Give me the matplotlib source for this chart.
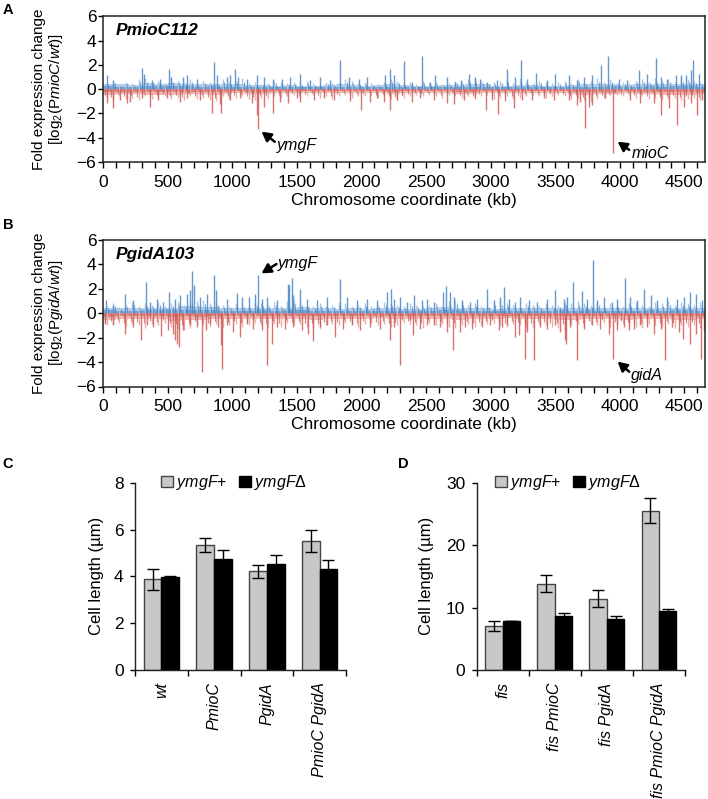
import numpy as np
import matplotlib
matplotlib.use('Agg')
import matplotlib.pyplot as plt
from matplotlib.ticker import MultipleLocator

plt.rcParams['font.family'] = ['Liberation Sans', 'DejaVu Sans']
plt.rcParams['mathtext.fontset'] = 'custom'
plt.rcParams['mathtext.it'] = 'Liberation Sans:italic'
plt.rcParams['mathtext.rm'] = 'Liberation Sans'
plt.rcParams['mathtext.bf'] = 'Liberation Sans:bold'

# ---------------- data: panel A (PmioC112) ----------------
A_up_kb = [31, 78, 302, 318, 375, 440, 509, 525, 615, 646, 724, 861, 879, 956, 982, 1021, 1042, 1111, 1189, 1241,
           1318, 1383, 1447, 1525, 1602, 1680, 1757, 1835, 1900, 1977, 2042, 2184, 2222, 2248, 2331, 2390, 2468, 2532,
           2571, 2662, 2726, 2773, 2835, 2881, 2920, 2972, 3049, 3127, 3191, 3235, 3282, 3354, 3437, 3502, 3605, 3670,
           3721, 3786, 3858, 3907, 3992, 4057, 4152, 4212, 4277, 4316, 4367, 4432, 4471, 4510, 4549, 4568, 4613]
A_up_val = [1.15, 0.74, 1.78, 1.28, 0.74, 0.87, 1.64, 1.01, 1.01, 1.15, 0.87, 2.24, 1.15, 1.01, 1.15, 1.69, 1.01, 0.87,
            1.20, 1.01, 0.87, 0.87, 1.01, 1.28, 0.74, 1.01, 0.74, 2.38, 1.01, 0.87, 1.01, 1.15, 1.69, 1.15, 2.30, 0.60,
            2.70, 0.60, 1.15, 1.01, 0.60, 0.74, 1.28, 1.01, 0.87, 0.60, 0.74, 1.64, 1.01, 2.38, 0.87, 1.37, 0.74, 1.28,
            1.20, 0.74, 1.01, 1.15, 1.97, 2.70, 0.87, 0.74, 1.56, 1.28, 2.57, 1.01, 0.87, 1.15, 1.15, 1.15, 1.56, 2.38,
            1.28]
A_dn_kb = [25, 78, 129, 181, 207, 297, 362, 427, 491, 595, 646, 750, 843, 904, 912, 982, 1060, 1150, 1189, 1197, 1241,
           1318, 1370, 1434, 1499, 1525, 1628, 1706, 1783, 1912, 1995, 2067, 2119, 2171, 2222, 2274, 2313, 2390, 2455,
           2558, 2662, 2713, 2791, 2881, 2966, 3010, 3057, 3114, 3178, 3243, 3321, 3411, 3489, 3605, 3670, 3695, 3734,
           3760, 3786, 3889, 3949, 4083, 4160, 4264, 4316, 4380, 4440, 4497, 4549, 4600, 4639]
A_dn_val = [-1.17, -1.58, -0.90, -1.17, -1.04, -0.77, -1.45, -0.90, -0.77, -1.04, -0.77, -0.90, -1.99, -1.26, -1.99,
            -0.90, -0.77, -1.17, -2.13, -3.28, -1.45, -1.99, -1.04, -1.17, -0.77, -1.04, -0.90, -0.77, -0.90, -0.98,
            -1.72, -1.04, -0.77, -1.04, -1.72, -0.90, -0.49, -1.09, -0.77, -0.90, -1.17, -1.26, -0.90, -0.77, -1.72,
            -0.90, -2.02, -0.98, -1.58, -0.90, -0.90, -0.77, -0.90, -0.90, -1.31, -1.04, -3.17, -1.45, -1.31, -0.77,
            -5.27, -0.90, -1.17, -1.17, -2.13, -1.58, -2.95, -1.45, -1.17, -2.13, -0.90]
# dense near-zero background, 100-kb bins (magnitudes)
A_up_fringe = [0.45, 0.40, 0.35, 0.50, 0.45, 0.50, 0.45, 0.40, 0.45, 0.40, 0.40, 0.35, 0.35, 0.30, 0.35, 0.30, 0.30,
               0.35, 0.40, 0.35, 0.30, 0.35, 0.40, 0.35, 0.30, 0.30, 0.35, 0.35, 0.40, 0.40, 0.30, 0.30, 0.35, 0.35,
               0.30, 0.30, 0.35, 0.40, 0.40, 0.45, 0.35, 0.40, 0.45, 0.40, 0.45, 0.45, 0.40]
A_dn_fringe = [0.45, 0.40, 0.40, 0.45, 0.50, 0.45, 0.40, 0.40, 0.45, 0.40, 0.35, 0.40, 0.40, 0.35, 0.35, 0.30, 0.30,
               0.35, 0.35, 0.35, 0.30, 0.35, 0.40, 0.30, 0.30, 0.30, 0.35, 0.40, 0.40, 0.35, 0.30, 0.30, 0.30, 0.35,
               0.30, 0.30, 0.40, 0.45, 0.40, 0.40, 0.35, 0.40, 0.40, 0.45, 0.45, 0.50, 0.40]
# typical largest small change per 50-kb bin (bin centres 25, 75, ... kb)
A_up_50 = [0.5, 0.7, 0.4, 0.6, 0.5, 0.8, 0.9, 0.6, 0.7, 0.5,
           0.9, 0.7, 0.6, 0.8, 0.5, 0.7, 0.6, 0.5, 0.8, 0.6,
           0.7, 0.9, 0.5, 0.6, 0.4, 0.5, 0.7, 0.6, 0.5, 0.6,
           0.5, 0.7, 0.5, 0.4, 0.6, 0.5, 0.6, 0.8, 0.7, 0.5,
           0.6, 0.5, 0.4, 0.6, 0.8, 0.7, 0.5, 0.6, 0.4, 0.7,
           0.5, 0.6, 0.4, 0.5, 0.7, 0.6, 0.8, 0.9, 0.7, 0.5,
           0.6, 0.7, 0.8, 0.5, 0.9, 0.6, 0.5, 0.7, 0.6, 0.5,
           0.6, 0.7, 0.5, 0.8, 0.6, 0.7, 0.9, 0.6, 0.8, 0.5,
           0.6, 0.5, 0.7, 0.8, 0.6, 0.9, 0.7, 0.8, 0.6, 0.9,
           0.8, 0.7, 0.6]
A_dn_50 = [-0.7, -0.9, -0.6, -0.8, -0.7, -0.9, -0.6, -0.8, -0.7, -0.6,
           -0.8, -0.7, -0.9, -0.6, -0.8, -0.7, -0.9, -1.0, -0.6, -0.8,
           -0.7, -0.6, -0.8, -0.9, -0.7, -0.8, -0.6, -0.7, -0.6, -0.5,
           -0.7, -0.6, -0.5, -0.7, -0.6, -0.8, -0.6, -0.5, -0.7, -0.6,
           -0.6, -0.5, -0.7, -0.6, -0.8, -0.9, -0.7, -0.6, -0.5, -0.6,
           -0.5, -0.6, -0.7, -0.5, -0.6, -0.7, -0.6, -0.8, -0.6, -0.5,
           -0.8, -0.7, -0.6, -0.8, -0.7, -0.6, -0.5, -0.6, -0.7, -0.6,
           -0.5, -0.6, -0.8, -0.7, -0.9, -1.0, -0.8, -0.7, -0.6, -0.5,
           -0.6, -0.5, -0.7, -0.6, -0.8, -0.7, -0.9, -0.8, -0.7, -0.9,
           -0.8, -0.7, -0.9]

# ---------------- data: panel B (PgidA103) ----------------
B_up_kb = [21, 78, 168, 233, 331, 362, 419, 465, 509, 556, 595, 651, 672, 690, 703, 750, 801, 858, 874, 956, 1034,
           1073, 1130, 1176, 1197, 1228, 1267, 1344, 1429, 1442, 1460, 1473, 1520, 1576, 1654, 1731, 1835, 1886, 1964,
           2042, 2119, 2197, 2231, 2248, 2300, 2352, 2409, 2468, 2507, 2558, 2628, 2657, 2682, 2713, 2778, 2843, 2894,
           2972, 3023, 3075, 3101, 3140, 3191, 3230, 3295, 3359, 3437, 3502, 3566, 3592, 3636, 3708, 3747, 3789, 3824,
           3876, 3941, 3980, 4039, 4083, 4134, 4186, 4238, 4290, 4367, 4445, 4497, 4541, 4587, 4639]
B_up_val = [1.09, 0.63, 1.58, 1.04, 2.53, 0.90, 1.17, 0.90, 1.72, 1.17, 1.44, 1.58, 1.85, 3.41, 2.26, 1.31, 1.58, 3.08,
            1.85, 1.17, 1.63, 1.31, 1.31, 1.58, 3.13, 1.17, 1.31, 1.04, 2.40, 2.26, 2.89, 1.44, 1.99, 1.17, 1.04, 1.31,
            2.81, 1.31, 1.04, 1.17, 1.04, 1.72, 1.99, 1.17, 1.31, 0.90, 1.44, 1.04, 1.17, 0.90, 1.72, 2.18, 1.72, 1.31,
            1.04, 0.90, 1.17, 1.99, 1.04, 1.31, 2.13, 1.17, 0.90, 1.31, 1.04, 0.90, 1.17, 1.85, 1.17, 1.31, 2.53, 1.80,
            1.17, 4.36, 1.04, 1.31, 0.90, 1.17, 2.86, 1.31, 1.04, 1.99, 1.44, 1.04, 1.31, 1.17, 1.31, 1.72, 1.58, 1.04]
B_dn_kb = [13, 78, 168, 233, 292, 336, 388, 444, 504, 543, 556, 574, 590, 620, 672, 724, 768, 796, 827, 892, 910, 918,
           956, 1008, 1060, 1111, 1163, 1228, 1267, 1305, 1344, 1408, 1473, 1537, 1589, 1623, 1680, 1731, 1796, 1860,
           1925, 1990, 2067, 2145, 2222, 2248, 2295, 2378, 2396, 2455, 2507, 2558, 2605, 2662, 2709, 2765, 2804, 2856,
           2933, 2998, 3062, 3088, 3127, 3186, 3217, 3264, 3282, 3334, 3385, 3437, 3502, 3540, 3579, 3587, 3618, 3670,
           3721, 3786, 3850, 3915, 3949, 3980, 4031, 4070, 4109, 4160, 4212, 4264, 4316, 4354, 4406, 4458, 4492, 4544,
           4587, 4626, 4652]
B_dn_val = [-0.87, -1.01, -1.74, -1.14, -2.18, -1.01, -1.14, -1.91, -1.42, -1.69, -2.23, -2.56, -2.78, -1.42, -1.01,
            -1.14, -4.82, -1.42, -0.87, -1.14, -2.64, -4.55, -1.01, -1.55, -1.96, -0.87, -1.28, -1.42, -4.28, -2.51,
            -1.14, -1.28, -1.14, -1.42, -1.69, -2.29, -1.14, -1.01, -1.96, -1.28, -1.01, -1.42, -1.14, -1.28, -2.23,
            -1.14, -4.28, -0.60, -1.83, -1.28, -1.01, -1.01, -1.14, -1.55, -3.05, -1.55, -1.14, -1.28, -1.14, -1.01,
            -1.42, -1.14, -1.01, -1.96, -1.83, -3.73, -1.55, -3.87, -1.14, -1.28, -1.01, -1.55, -2.23, -2.56, -1.14,
            -3.87, -1.28, -1.01, -1.28, -1.69, -3.73, -1.42, -1.14, -1.42, -1.28, -1.01, -1.14, -1.69, -1.28, -3.81,
            -1.14, -1.55, -2.10, -2.51, -1.69, -3.73, -1.42]
B_up_fringe = [0.45, 0.40, 0.40, 0.45, 0.45, 0.45, 0.55, 0.50, 0.50, 0.40, 0.40, 0.40, 0.45, 0.40, 0.45, 0.50, 0.40,
               0.40, 0.35, 0.40, 0.35, 0.40, 0.40, 0.35, 0.35, 0.40, 0.50, 0.45, 0.40, 0.40, 0.35, 0.40, 0.40, 0.40,
               0.40, 0.45, 0.40, 0.45, 0.40, 0.40, 0.40, 0.40, 0.45, 0.40, 0.45, 0.45, 0.40]
B_dn_fringe = [0.60, 0.45, 0.50, 0.50, 0.50, 0.65, 0.55, 0.60, 0.50, 0.50, 0.45, 0.50, 0.50, 0.45, 0.50, 0.50, 0.55,
               0.50, 0.45, 0.45, 0.45, 0.40, 0.45, 0.45, 0.45, 0.50, 0.50, 0.55, 0.50, 0.45, 0.45, 0.40, 0.45, 0.45,
               0.45, 0.55, 0.55, 0.50, 0.45, 0.50, 0.55, 0.45, 0.50, 0.50, 0.55, 0.55, 0.50]
B_up_50 = [0.6, 0.8, 0.5, 0.7, 0.9, 0.6, 0.8, 0.7, 0.9, 0.6,
           0.8, 0.9, 0.7, 0.9, 1.0, 1.1, 0.8, 0.9, 0.7, 0.6,
           0.8, 0.7, 0.6, 0.9, 0.8, 0.7, 0.9, 0.6, 1.0, 1.1,
           0.9, 0.7, 0.6, 0.8, 0.6, 0.7, 0.9, 0.8, 0.6, 0.7,
           0.8, 0.6, 0.7, 0.9, 0.8, 0.7, 0.6, 0.8, 0.7, 0.6,
           0.7, 0.8, 0.6, 1.0, 1.1, 0.9, 0.7, 0.8, 0.6, 0.7,
           0.9, 1.0, 0.8, 0.7, 0.6, 0.8, 0.7, 0.6, 0.8, 0.7,
           0.7, 0.9, 0.8, 1.0, 0.8, 0.7, 0.9, 0.6, 0.8, 0.7,
           0.6, 0.8, 0.9, 0.7, 0.6, 0.9, 0.8, 1.0, 0.7, 0.9,
           0.8, 0.7, 0.9]
B_dn_50 = [-1.0, -0.9, -0.8, -1.1, -0.9, -1.0, -1.2, -0.9, -1.0, -0.8,
           -1.1, -1.3, -1.4, -1.2, -0.9, -1.0, -1.1, -0.9, -1.2, -1.0,
           -0.9, -1.1, -1.0, -0.8, -1.0, -1.2, -0.9, -1.1, -0.8, -1.0,
           -0.9, -1.1, -1.2, -1.3, -1.0, -0.9, -1.0, -0.8, -0.9, -1.1,
           -0.9, -0.8, -1.0, -0.9, -1.1, -1.0, -0.8, -0.9, -1.0, -1.2,
           -0.8, -1.0, -0.9, -1.1, -1.2, -1.0, -0.9, -1.1, -1.0, -0.9,
           -0.8, -1.0, -1.1, -0.9, -1.0, -1.2, -1.1, -0.9, -1.0, -1.1,
           -1.2, -1.3, -1.0, -0.9, -1.1, -0.9, -1.0, -0.8, -1.1, -1.0,
           -0.9, -1.0, -1.1, -1.2, -0.9, -1.0, -1.1, -0.9, -1.2, -1.0,
           -1.1, -1.0, -1.2]

# ---------------- data: panels C and D ----------------
C_groups = ['wt', 'PmioC', 'PgidA', 'PmioC PgidA']
C_plus = [3.87, 5.35, 4.21, 5.50]
C_plus_err = [0.44, 0.30, 0.26, 0.46]
C_del = [3.97, 4.75, 4.51, 4.31]
C_del_err = [0.05, 0.38, 0.41, 0.37]

D_groups = ['fis', 'fis PmioC', 'fis PgidA', 'fis PmioC PgidA']
D_plus = [7.05, 13.83, 11.43, 25.52]
D_plus_err = [0.85, 1.40, 1.40, 2.00]
D_del = [7.85, 8.60, 8.12, 9.50]
D_del_err = [0.06, 0.50, 0.50, 0.35]

# ---------------- styling ----------------
BLUE = '#4a87c6'
BLUE_L = '#a8c6e6'
RED = '#cf5a55'
RED_L = '#eaaeab'
W, H = 708, 799
fig = plt.figure(figsize=(W / 100, H / 100), dpi=100)


def px_axes(l, t, r, b):
    return fig.add_axes([l / W, 1 - b / H, (r - l) / W, (b - t) / H])


def genome_panel(ax, up_kb, up_val, dn_kb, dn_val, up_fr, dn_fr, up50, dn50, title, ylab):
    e_up = np.arange(len(up_fr) + 1) * 100
    e_dn = np.arange(len(dn_fr) + 1) * 100
    c_up = np.arange(len(up50)) * 50 + 25
    c_dn = np.arange(len(dn50)) * 50 + 25
    ax.stairs(up_fr, e_up, baseline=0, fill=True, color=BLUE_L, lw=0, alpha=0.85)
    ax.stairs(-np.array(dn_fr), e_dn, baseline=0, fill=True, color=RED_L, lw=0, alpha=0.85)
    ax.stairs(np.array(up_fr) * 0.5, e_up, baseline=0, fill=True, color=BLUE, lw=0, alpha=0.6)
    ax.stairs(-np.array(dn_fr) * 0.5, e_dn, baseline=0, fill=True, color=RED, lw=0, alpha=0.6)
    ax.vlines(c_up, 0, up50, color=BLUE_L, lw=1.0)
    ax.vlines(c_dn, dn50, 0, color=RED_L, lw=1.0)
    ax.vlines(c_up + 12, 0, np.array(up50) * 0.7, color=BLUE, lw=0.9, alpha=0.7)
    ax.vlines(c_dn - 12, np.array(dn50) * 0.7, 0, color=RED, lw=0.9, alpha=0.7)
    ax.vlines(up_kb, 0, up_val, color=BLUE, lw=1.0, alpha=0.85)
    ax.vlines(dn_kb, dn_val, 0, color=RED, lw=1.0, alpha=0.85)
    ax.set_xlim(0, 4660)
    ax.set_ylim(-6, 6)
    ax.set_yticks([-6, -4, -2, 0, 2, 4, 6])
    ax.xaxis.set_major_locator(MultipleLocator(500))
    ax.xaxis.set_minor_locator(MultipleLocator(100))
    ax.tick_params(axis='x', which='both', direction='out', length=4.3, width=1, labelsize=12.5, pad=5)
    ax.tick_params(axis='y', which='both', direction='out', length=3.5, width=1, labelsize=12.5, pad=1.5)
    for s in ax.spines.values():
        s.set_linewidth(1.1)
        s.set_color('#222222')
    ax.set_xlabel('Chromosome coordinate (kb)', fontsize=12.5, labelpad=2)
    ax.set_ylabel(ylab, fontsize=11, linespacing=1.05)
    ax.yaxis.set_label_coords(-0.064, 0.5)
    ax.text(0.021, 0.9, title, transform=ax.transAxes, fontsize=12.5, fontweight='bold',
            fontstyle='italic', va='center', ha='left')


def arrow(ax, head, tail, label, text_xy):
    ax.annotate('', xy=head, xytext=tail,
                arrowprops=dict(arrowstyle='-|>,head_length=0.55,head_width=0.3', lw=1.8, color='black',
                                shrinkA=0, shrinkB=0))
    ax.text(text_xy[0], text_xy[1], label, fontsize=11.5, fontstyle='italic', ha='left', va='center')


axA = px_axes(103.3, 16.3, 705, 162)
genome_panel(axA, A_up_kb, A_up_val, A_dn_kb, A_dn_val, A_up_fringe, A_dn_fringe, A_up_50, A_dn_50, 'PmioC112',
             'Fold expression change\n[log$_2$(P$\\it{mioC}$/$\\it{wt}$)]')
arrow(axA, (1225, -3.5), (1328, -4.33), 'ymgF', (1343, -4.6))
arrow(axA, (3983, -4.33), (4073, -5.0), 'mioC', (4094, -5.28))

axB = px_axes(103.3, 239.7, 705, 386.5)
genome_panel(axB, B_up_kb, B_up_val, B_dn_kb, B_dn_val, B_up_fringe, B_dn_fringe, B_up_50, B_dn_50, 'PgidA103',
             'Fold expression change\n[log$_2$(P$\\it{gidA}$/$\\it{wt}$)]')
arrow(axB, (1225, 3.25), (1341, 4.01), 'ymgF', (1351, 4.05))
arrow(axB, (3983, -3.97), (4073, -4.79), 'gidA', (4087, -5.14))


def bar_panel(ax, groups, plus, plus_err, dele, dele_err, ymax, yticks, ylab_x, leg_x):
    x = np.arange(len(groups)) + 0.5
    w = 0.335
    ekw = dict(ecolor='black', elinewidth=1.0, capsize=4.5, capthick=1.0)
    ax.bar(x - w / 2, plus, w, yerr=plus_err, color='#c8c8c8', edgecolor='#444444', lw=1.0,
           error_kw=ekw, label='$\\it{ymgF}$+', zorder=2)
    ax.bar(x + w / 2, dele, w, yerr=dele_err, color='black', edgecolor='black', lw=1.0,
           error_kw=ekw, label='$\\it{ymgF}$\u0394', zorder=2)
    ax.set_xlim(0, len(groups))
    ax.set_ylim(0, ymax)
    ax.set_yticks(yticks)
    ax.set_xticks(x)
    ax.set_xticklabels(groups, rotation=90, fontstyle='italic', fontsize=11.5, va='top')
    ax.set_xticks(np.arange(len(groups) + 1), minor=True)
    ax.tick_params(axis='x', which='major', length=0, pad=9)
    ax.tick_params(axis='x', which='minor', length=4, width=1, direction='out')
    ax.tick_params(axis='y', length=3.6, width=1, direction='out', labelsize=12.5, pad=4.5)
    ax.spines['top'].set_visible(False)
    ax.spines['right'].set_visible(False)
    for s in ('left', 'bottom'):
        ax.spines[s].set_linewidth(1.0)
        ax.spines[s].set_color('#222222')
    ax.set_ylabel('Cell length (\u00b5m)', fontsize=12)
    ax.yaxis.set_label_coords(ylab_x, 0.5)
    ax.legend(loc='center', bbox_to_anchor=(leg_x, 1.0), ncol=2, frameon=False, fontsize=11.5,
              handlelength=0.75, handleheight=0.75, handletextpad=0.2, columnspacing=0.7, borderpad=0)


axC = px_axes(135, 482.7, 346, 670)
bar_panel(axC, C_groups, C_plus, C_plus_err, C_del, C_del_err, 8, [0, 2, 4, 6, 8], -0.147, 0.47)
axD = px_axes(476.7, 482.7, 685, 670)
bar_panel(axD, D_groups, D_plus, D_plus_err, D_del, D_del_err, 30, [0, 10, 20, 30], -0.205, 0.44)

for lab, (xp, yp) in {'A': (8.3, 10), 'B': (8, 225), 'C': (8, 464.5), 'D': (403, 464)}.items():
    fig.text(xp / W, 1 - yp / H, lab, fontsize=10.5, fontweight='bold', ha='center', va='center')

fig.savefig('out.png', dpi=100)
